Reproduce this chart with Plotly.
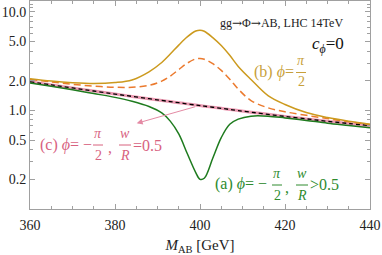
import numpy as np
import plotly.graph_objects as go

# ---- data ----
mass = [360, 365, 370, 375, 380, 384, 388, 391, 393, 395, 397, 399, 400,
        401, 403, 405, 407, 409, 412, 416, 420, 425, 430, 435, 440]
background = [1.95, 1.815, 1.69, 1.574, 1.466, 1.388, 1.315, 1.262, 1.229, 1.197,
              1.165, 1.134, 1.12, 1.105, 1.077, 1.050, 1.023, 0.996, 0.960, 0.913,
              0.869, 0.821, 0.776, 0.737, 0.700]
curve_b = [2.10, 1.985, 1.91, 1.874, 1.916, 2.038, 2.465, 3.062, 3.729, 4.597,
           5.565, 6.384, 6.52, 6.355, 5.477, 4.55, 3.623, 2.796, 2.06, 1.413,
           1.149, 0.951, 0.846, 0.777, 0.725]
curve_b_dashed = [2.06, 1.945, 1.84, 1.764, 1.716, 1.718, 1.795, 1.982, 2.229, 2.597,
                  3.015, 3.334, 3.37, 3.305, 2.977, 2.55, 2.073, 1.646, 1.26, 1.063,
                  0.969, 0.891, 0.826, 0.767, 0.72]
curve_a = [1.90, 1.755, 1.62, 1.484, 1.356, 1.238, 1.095, 0.942, 0.779, 0.577,
           0.365, 0.234, 0.20, 0.205, 0.327, 0.53, 0.723, 0.816, 0.875, 0.875,
           0.84, 0.792, 0.743, 0.704, 0.667]

x_ticks = [360, 380, 400, 420, 440]
y_ticks = [0.2, 0.5, 1.0, 2.0, 5.0, 10.0]
y_ticktext = ["0.2", "0.5", "1.0", "2.0", "5.0", "10.0"]
y_minor = [0.1, 0.2, 0.3, 0.4, 0.5, 0.6, 0.7, 0.8, 0.9, 1, 2, 3, 4, 5, 6, 7, 8, 9, 10, 11, 12]

GOLD = "#CC9A1E"
GOLD_T = "#C89F3A"
ORANGE = "#EB7A2E"
GREEN = "#1E7B1E"
GREEN_T = "#2E8B2E"
PINK = "#EC9AB2"
PINK_T = "#D8627F"
ARROW = "#E48AA4"
SERIF = "Liberation Serif"

fig = go.Figure()
fig.add_trace(go.Scatter(x=mass, y=background, mode="lines", line=dict(color=PINK, width=3, shape="spline")))
fig.add_trace(go.Scatter(x=mass, y=background, mode="lines", line=dict(color="black", width=1.3, dash="4px,3px", shape="spline")))
fig.add_trace(go.Scatter(x=mass, y=curve_b_dashed, mode="lines", line=dict(color=ORANGE, width=1.5, dash="7px,4px", shape="spline")))
fig.add_trace(go.Scatter(x=mass, y=curve_b, mode="lines", line=dict(color=GOLD, width=1.5, shape="spline")))
fig.add_trace(go.Scatter(x=mass, y=curve_a, mode="lines", line=dict(color=GREEN, width=1.5, shape="spline")))

W, H = 382, 255
L, R, T, B = 30, 12, 1, 46
pw, ph = W - L - R, H - T - B


def px(xp):
    return (xp - L) / pw


def py(yp):
    return (H - B - yp) / ph


ann = []
shapes = []


def text(s, x, y, color, size, xanchor="center", yanchor="middle"):
    ann.append(dict(text=s, x=px(x), y=py(y), xref="paper", yref="paper", showarrow=False,
                    xanchor=xanchor, yanchor=yanchor, font=dict(family=SERIF, size=size, color=color)))


def frac(num, den, xc, ytop, ybot, color, size, half=5):
    text(num, xc, ytop, color, size)
    text(den, xc, ybot, color, size)
    ym = (ytop + ybot) / 2 + 1
    shapes.append(dict(type="line", xref="paper", yref="paper", x0=px(xc - half), x1=px(xc + half),
                       y0=py(ym), y1=py(ym), line=dict(color=color, width=1)))


ARR = '<span style="font-family:DejaVu Serif">→</span>'

# process label
text("gg" + ARR + "Φ" + ARR + "AB, LHC 14TeV", 218, 23, "#222", 12, xanchor="left")
text("<i>c</i><sub><i>ϕ</i></sub>=0", 310, 45, "#111", 17, xanchor="left")

# (b)
text("(b) <i>ϕ</i>=", 296, 72, GOLD_T, 16, xanchor="right")
frac("<i>π</i>", "2", 301, 61, 82, GOLD_T, 14)

# (c)
text("(c) <i>ϕ</i>= −", 38, 145, PINK_T, 16, xanchor="left")
frac("<i>π</i>", "2", 98, 133, 155, PINK_T, 14)
text(",", 110, 147, PINK_T, 16)
frac("<i>w</i>", "<i>R</i>", 125, 133, 155, PINK_T, 14, half=6)
text("=0.5", 131, 145, PINK_T, 16, xanchor="left")

# (a)
text("(a) <i>ϕ</i>= −", 213, 184, GREEN_T, 16, xanchor="left")
frac("<i>π</i>", "2", 277, 173, 195, GREEN_T, 14)
text(",", 287, 187, GREEN_T, 16)
frac("<i>w</i>", "<i>R</i>", 302, 173, 195, GREEN_T, 14, half=6)
text("&gt;0.5", 308, 184, GREEN_T, 16, xanchor="left")

# arrow pointing to curve (c)
ann.append(dict(x=385.1, y=float(np.log10(0.74)), xref="x", yref="y", text="", showarrow=True,
                ax=60, ay=-17, arrowhead=2, arrowsize=1.2, arrowwidth=1, arrowcolor=ARROW))

axis_common = dict(showline=True, linecolor="#A0A0A0", linewidth=1, mirror="ticks",
                   ticks="inside", ticklen=5, tickcolor="#A0A0A0", showgrid=False, zeroline=False,
                   ticklabeloverflow="allow",
                   tickfont=dict(family=SERIF, size=14, color="#222"))

fig.update_layout(
    width=W, height=H,
    margin=dict(l=L, r=R, t=T, b=B),
    font=dict(family=SERIF, color="#222"),
    plot_bgcolor="white", paper_bgcolor="white",
    showlegend=False,
    annotations=ann, shapes=shapes,
    xaxis=dict(range=[360, 440], tickvals=x_ticks, ticklabelstandoff=3,
               minor=dict(dtick=5, ticks="inside", ticklen=3, tickcolor="#A0A0A0"),
               title=dict(text="<i>M</i><sub>AB</sub> [GeV]", standoff=10,
                          font=dict(family=SERIF, size=15, color="#222")),
               **axis_common),
    yaxis=dict(type="log", range=[-1.0, 1.11], tickvals=y_ticks, ticktext=y_ticktext,
               minor=dict(tickvals=y_minor, ticks="inside", ticklen=3, tickcolor="#A0A0A0"),
               **axis_common),
)

fig.write_html(
    "out.html",
    config={"displayModeBar": False},
    post_script="document.body.style.margin='0';document.body.style.padding='0';document.body.style.overflow='hidden';",
)
